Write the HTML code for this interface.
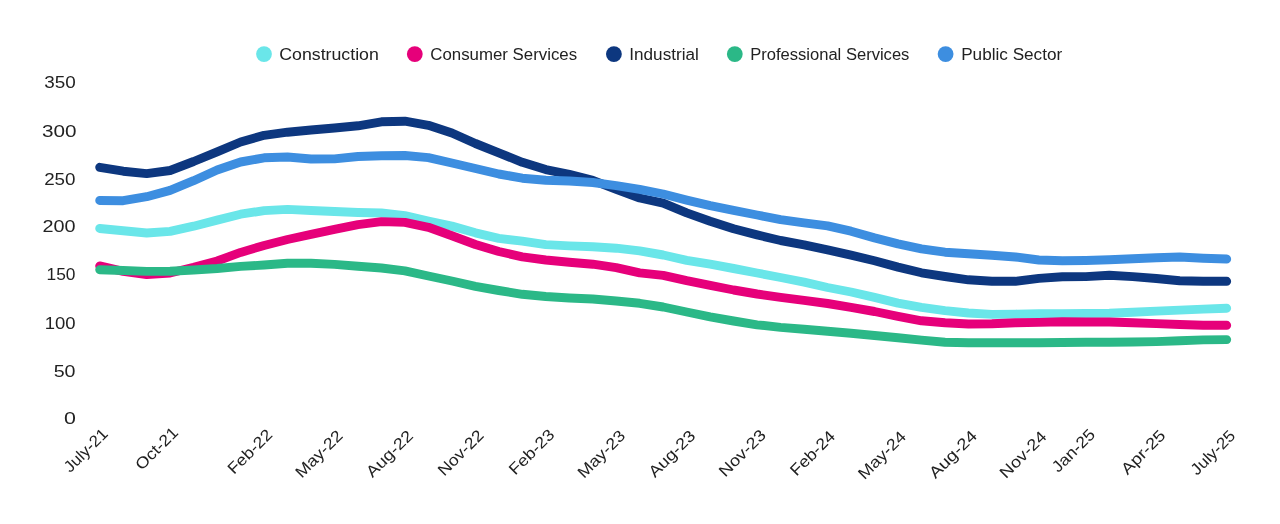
<!DOCTYPE html>
<html><head><meta charset="utf-8"><title>Chart</title>
<style>
html,body{margin:0;padding:0;background:#fff;width:1280px;height:524px;overflow:hidden}
svg{display:block;will-change:transform;font-family:"Liberation Sans",Arial,sans-serif}
text{fill:#222222}
</style></head><body>
<svg width="1280" height="524" viewBox="0 0 1280 524">
<rect width="1280" height="524" fill="#fff"/>

<g font-size="16">
<circle cx="264.0" cy="54.1" r="7.9" fill="#6AE6E9"/>
<text x="279.3" y="59.6" textLength="99.5" lengthAdjust="spacingAndGlyphs">Construction</text>
<circle cx="414.8" cy="54.1" r="7.9" fill="#E6007A"/>
<text x="430.3" y="59.6" textLength="146.8" lengthAdjust="spacingAndGlyphs">Consumer Services</text>
<circle cx="613.9" cy="54.1" r="7.9" fill="#0D377F"/>
<text x="629.3" y="59.6" textLength="69.5" lengthAdjust="spacingAndGlyphs">Industrial</text>
<circle cx="734.8" cy="54.1" r="7.9" fill="#2BB887"/>
<text x="750.2" y="59.6" textLength="159.2" lengthAdjust="spacingAndGlyphs">Professional Services</text>
<circle cx="945.6" cy="54.1" r="7.9" fill="#3D8EE0"/>
<text x="961.2" y="59.6" textLength="101.0" lengthAdjust="spacingAndGlyphs">Public Sector</text>
</g>
<g font-size="16" text-anchor="end">
<text x="75.80" y="424.16" textLength="11.88" lengthAdjust="spacingAndGlyphs">0</text>
<text x="75.48" y="376.84" textLength="21.83" lengthAdjust="spacingAndGlyphs">50</text>
<text x="75.48" y="328.90" textLength="30.83" lengthAdjust="spacingAndGlyphs">100</text>
<text x="75.48" y="280.14" textLength="28.91" lengthAdjust="spacingAndGlyphs">150</text>
<text x="75.48" y="232.14" textLength="33.07" lengthAdjust="spacingAndGlyphs">200</text>
<text x="75.48" y="184.62" textLength="31.31" lengthAdjust="spacingAndGlyphs">250</text>
<text x="76.44" y="136.66" textLength="34.51" lengthAdjust="spacingAndGlyphs">300</text>
<text x="75.80" y="87.92" textLength="31.47" lengthAdjust="spacingAndGlyphs">350</text>
</g>
<g font-size="16" text-anchor="end">
<text transform="translate(108.78,434.80) rotate(-45)" textLength="54.36" lengthAdjust="spacingAndGlyphs">July-21</text>
<text transform="translate(179.18,433.60) rotate(-45)" textLength="52.94" lengthAdjust="spacingAndGlyphs">Oct-21</text>
<text transform="translate(273.38,435.60) rotate(-45)" textLength="55.70" lengthAdjust="spacingAndGlyphs">Feb-22</text>
<text transform="translate(343.70,436.80) rotate(-45)" textLength="59.49" lengthAdjust="spacingAndGlyphs">May-22</text>
<text transform="translate(414.09,436.80) rotate(-45)" textLength="58.73" lengthAdjust="spacingAndGlyphs">Aug-22</text>
<text transform="translate(484.65,436.40) rotate(-45)" textLength="57.13" lengthAdjust="spacingAndGlyphs">Nov-22</text>
<text transform="translate(555.44,435.60) rotate(-45)" textLength="56.72" lengthAdjust="spacingAndGlyphs">Feb-23</text>
<text transform="translate(626.24,436.80) rotate(-45)" textLength="59.72" lengthAdjust="spacingAndGlyphs">May-23</text>
<text transform="translate(696.39,436.80) rotate(-45)" textLength="58.68" lengthAdjust="spacingAndGlyphs">Aug-23</text>
<text transform="translate(766.87,436.00) rotate(-45)" textLength="59.00" lengthAdjust="spacingAndGlyphs">Nov-23</text>
<text transform="translate(836.06,437.20) rotate(-45)" textLength="55.82" lengthAdjust="spacingAndGlyphs">Feb-24</text>
<text transform="translate(907.02,437.60) rotate(-45)" textLength="60.23" lengthAdjust="spacingAndGlyphs">May-24</text>
<text transform="translate(977.97,436.80) rotate(-45)" textLength="60.20" lengthAdjust="spacingAndGlyphs">Aug-24</text>
<text transform="translate(1047.65,437.60) rotate(-45)" textLength="58.77" lengthAdjust="spacingAndGlyphs">Nov-24</text>
<text transform="translate(1096.07,435.52) rotate(-45)" textLength="53.44" lengthAdjust="spacingAndGlyphs">Jan-25</text>
<text transform="translate(1166.55,436.40) rotate(-45)" textLength="55.20" lengthAdjust="spacingAndGlyphs">Apr-25</text>
<text transform="translate(1236.22,436.80) rotate(-45)" textLength="55.32" lengthAdjust="spacingAndGlyphs">July-25</text>
</g>
<g fill="none" stroke-width="8.9" stroke-linecap="round" stroke-linejoin="round">
<polyline stroke="#6AE6E9" points="99.7,228.5 123.2,230.8 146.7,233.0 170.1,231.4 193.6,226.2 217.1,220.1 240.6,214.2 264.1,210.6 287.5,209.4 311.0,210.5 334.5,211.5 358.0,212.5 381.4,213.0 404.9,215.7 428.4,221.1 451.9,226.1 475.4,232.8 498.8,238.4 522.3,241.1 545.8,244.6 569.3,245.9 592.8,246.7 616.2,248.2 639.7,250.8 663.2,255.0 686.7,260.3 710.2,264.2 733.6,268.5 757.1,273.0 780.6,277.5 804.1,282.2 827.6,287.5 851.0,292.0 874.5,297.4 898.0,303.1 921.5,307.3 945.0,310.6 968.4,313.0 991.9,314.4 1015.4,314.1 1038.9,313.7 1062.3,313.7 1085.8,313.5 1109.3,313.2 1132.8,312.3 1156.3,311.1 1179.7,310.1 1203.2,309.1 1226.7,308.3"/>
<polyline stroke="#E6007A" points="99.7,265.9 123.2,271.3 146.7,274.5 170.1,273.0 193.6,267.3 217.1,261.0 240.6,252.4 264.1,245.5 287.5,239.5 311.0,234.4 334.5,229.4 358.0,224.6 381.4,221.6 404.9,222.4 428.4,227.3 451.9,235.8 475.4,244.5 498.8,251.5 522.3,256.8 545.8,260.0 569.3,262.3 592.8,264.2 616.2,267.7 639.7,272.8 663.2,275.4 686.7,280.7 710.2,285.4 733.6,290.0 757.1,294.0 780.6,297.3 804.1,300.4 827.6,303.5 851.0,307.3 874.5,311.5 898.0,316.4 921.5,320.8 945.0,322.8 968.4,324.0 991.9,323.8 1015.4,322.8 1038.9,322.4 1062.3,321.7 1085.8,322.0 1109.3,322.0 1132.8,322.8 1156.3,323.6 1179.7,324.5 1203.2,325.3 1226.7,325.3"/>
<polyline stroke="#0D377F" points="99.7,167.3 123.2,171.2 146.7,173.6 170.1,170.5 193.6,161.5 217.1,151.8 240.6,142.0 264.1,135.3 287.5,132.2 311.0,130.0 334.5,128.0 358.0,125.8 381.4,121.8 404.9,121.2 428.4,125.3 451.9,133.0 475.4,143.5 498.8,152.8 522.3,162.3 545.8,169.6 569.3,174.4 592.8,180.3 616.2,189.3 639.7,198.0 663.2,203.1 686.7,212.9 710.2,221.3 733.6,228.8 757.1,234.9 780.6,240.5 804.1,244.8 827.6,249.8 851.0,255.1 874.5,260.8 898.0,267.1 921.5,272.8 945.0,276.5 968.4,279.8 991.9,281.3 1015.4,281.3 1038.9,278.4 1062.3,276.8 1085.8,276.6 1109.3,275.3 1132.8,276.6 1156.3,278.5 1179.7,280.7 1203.2,281.2 1226.7,281.3"/>
<polyline stroke="#2BB887" points="99.7,269.7 123.2,270.5 146.7,271.4 170.1,271.3 193.6,270.0 217.1,268.5 240.6,266.4 264.1,265.0 287.5,263.3 311.0,263.3 334.5,264.4 358.0,266.2 381.4,268.0 404.9,270.9 428.4,276.0 451.9,281.0 475.4,286.3 498.8,290.5 522.3,294.3 545.8,296.5 569.3,298.0 592.8,299.0 616.2,301.0 639.7,303.3 663.2,307.0 686.7,312.0 710.2,316.8 733.6,321.0 757.1,324.8 780.6,327.4 804.1,329.3 827.6,331.3 851.0,333.2 874.5,335.5 898.0,337.8 921.5,340.1 945.0,342.2 968.4,342.8 991.9,342.8 1015.4,342.8 1038.9,342.8 1062.3,342.5 1085.8,342.2 1109.3,342.2 1132.8,342.0 1156.3,341.6 1179.7,340.7 1203.2,339.9 1226.7,339.6"/>
<polyline stroke="#3D8EE0" points="99.7,200.5 123.2,200.7 146.7,196.7 170.1,190.4 193.6,180.7 217.1,170.0 240.6,162.0 264.1,157.8 287.5,157.0 311.0,159.0 334.5,158.9 358.0,156.5 381.4,155.7 404.9,155.5 428.4,157.6 451.9,163.0 475.4,168.5 498.8,174.0 522.3,178.2 545.8,180.2 569.3,181.0 592.8,182.5 616.2,185.6 639.7,189.4 663.2,194.0 686.7,200.1 710.2,205.7 733.6,210.4 757.1,215.0 780.6,219.6 804.1,222.8 827.6,225.9 851.0,231.2 874.5,237.9 898.0,243.9 921.5,248.9 945.0,252.2 968.4,253.8 991.9,255.3 1015.4,257.0 1038.9,260.0 1062.3,260.8 1085.8,260.5 1109.3,259.8 1132.8,258.7 1156.3,257.8 1179.7,257.0 1203.2,258.2 1226.7,259.0"/>
</g>
</svg>
</body></html>
